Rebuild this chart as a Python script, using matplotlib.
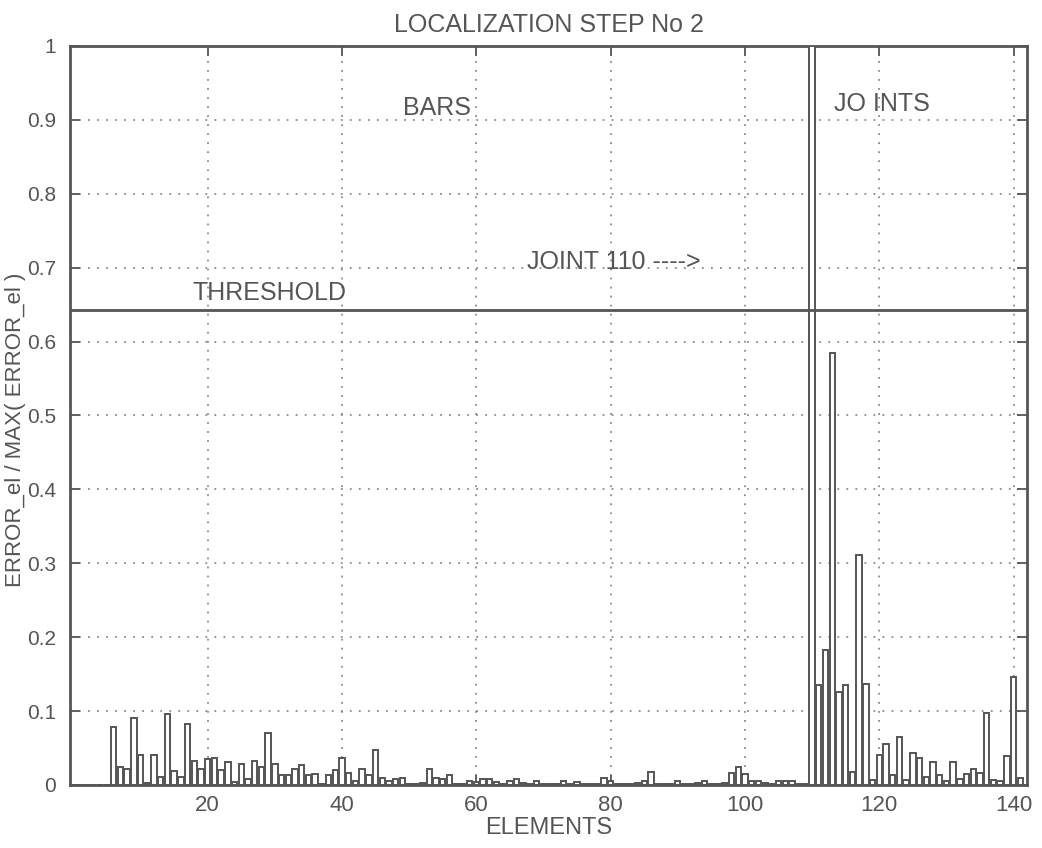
import numpy as np
import matplotlib
matplotlib.use("Agg")
import matplotlib.pyplot as plt

plt.rcParams['font.family'] = ['Liberation Sans', 'DejaVu Sans']

# normalized element error, elements 1..141 (1-109 bars, 110-141 joints)
bars_err = [0, 0, 0, 0, 0,
            0.078, 0.025, 0.021, 0.090, 0.041, 0.003, 0.040, 0.011, 0.096, 0.019,
            0.011, 0.082, 0.033, 0.022, 0.035, 0.037, 0.020, 0.031, 0.004, 0.029,
            0.008, 0.033, 0.024, 0.071, 0.029, 0.013, 0.013, 0.021, 0.027, 0.013,
            0.015, 0.002, 0.013, 0.020, 0.037, 0.016, 0.006, 0.021, 0.013, 0.047,
            0.010, 0.006, 0.008, 0.010, 0.002, 0.002, 0.003, 0.021, 0.009, 0.008,
            0.014, 0.002, 0.002, 0.005, 0.004, 0.008, 0.008, 0.004, 0.002, 0.005,
            0.008, 0.003, 0.002, 0.005, 0.002, 0.002, 0.002, 0.006, 0.002, 0.004,
            0.002, 0.002, 0.002, 0.009, 0.006, 0.002, 0.002, 0.002, 0.003, 0.005,
            0.018, 0.002, 0.002, 0.002, 0.005, 0.002, 0.002, 0.003, 0.005, 0.002,
            0.002, 0.003, 0.016, 0.024, 0.015, 0.006, 0.006, 0.003, 0.002, 0.006,
            0.006, 0.006, 0.001, 0.001]
joints_err = [1.0, 0.135, 0.183, 0.584, 0.126, 0.135, 0.018, 0.311, 0.136, 0.007,
              0.041, 0.056, 0.014, 0.065, 0.007, 0.043, 0.037, 0.011, 0.031, 0.014,
              0.005, 0.031, 0.008, 0.015, 0.021, 0.016, 0.098, 0.007, 0.005, 0.039,
              0.146, 0.009]
errors = np.array(bars_err + joints_err)
elements = np.arange(1, len(errors) + 1)
threshold = 0.643

ink = '#555555'
fig = plt.figure(figsize=(10.42, 8.48), dpi=100)
ax = fig.add_axes([0.0672, 0.0743, 0.9184, 0.8715])

ax.bar(elements, errors, width=0.8, facecolor='white', edgecolor=ink, linewidth=1.4, zorder=3)
ax.axhline(threshold, color=ink, linewidth=2, zorder=4)

ax.set_xlim(-0.5, 142)
ax.set_ylim(0, 1)
ax.set_xticks(np.arange(20, 141, 20))
ax.set_yticks(np.arange(0, 1.01, 0.1))
ax.set_yticklabels(['0'] + ['%.1f' % v for v in np.arange(0.1, 0.95, 0.1)] + ['1'])
ax.grid(True, color='#8a8a8a', linestyle=(0, (1, 4)), linewidth=1.3, zorder=0)
ax.tick_params(direction='in', length=7, width=1.3, colors=ink,
               top=True, right=True, labelcolor=ink)
ax.tick_params(axis='y', pad=10, labelsize=15)
ax.tick_params(axis='x', pad=7, labelsize=16)
for s in ax.spines.values():
    s.set_color(ink)
    s.set_linewidth(2)

ax.text(17.8, 0.666, 'THRESHOLD', fontsize=18, color=ink, va='center')
ax.text(49.1, 0.916, 'BARS', fontsize=18, color=ink, va='center')
ax.text(113.2, 0.921, 'JO INTS', fontsize=18, color=ink, va='center')
ax.text(67.6, 0.708, 'JOINT 110 ---->', fontsize=18, color=ink, va='center')

ax.set_title('LOCALIZATION STEP No 2', fontsize=18, color=ink, pad=10)
ax.set_xlabel('ELEMENTS', fontsize=17, color=ink, labelpad=1)
ax.set_ylabel('ERROR_el / MAX( ERROR_el )', fontsize=16, color=ink)
ax.yaxis.set_label_coords(-0.046, 0.48)

fig.savefig('out.png', dpi=100)
